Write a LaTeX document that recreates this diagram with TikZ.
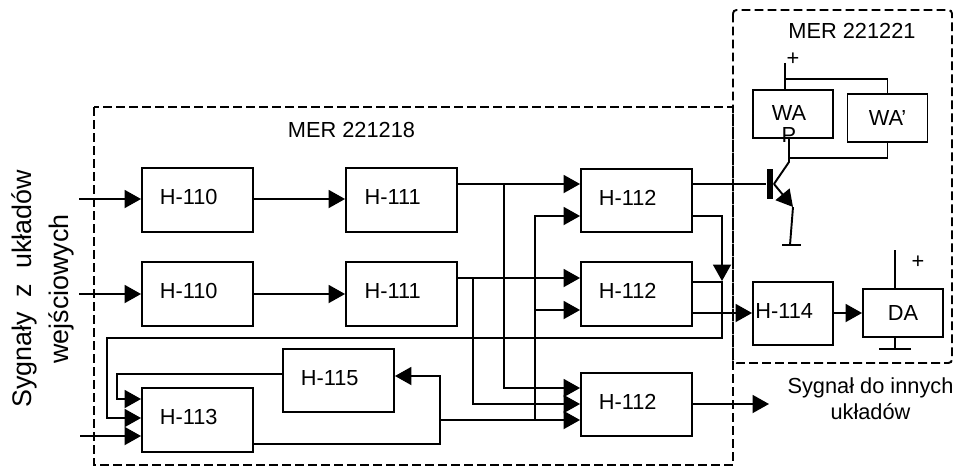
\documentclass[tikz,border=0pt]{standalone}
\usepackage{fontspec}
\setmainfont{Liberation Sans}
\usetikzlibrary{arrows.meta,positioning}
\begin{document}
\begin{tikzpicture}[x=.02cm,y=-.02cm,line width=1.1pt,font=\fontsize{12.4}{15}\selectfont,
 blk/.style={draw,minimum width=22.2mm,minimum height=12.7mm,inner sep=0pt,text depth=3.4pt,execute at end node=\hspace{10pt}},
 sblk/.style={blk,minimum width=16mm,minimum height=12.7mm},
 load/.style={draw,minimum width=16mm,minimum height=9.6mm,inner sep=0pt},
 region/.style={dash pattern=on 5pt off 2.4pt},
 arr/.style={-{Triangle[length=3.3mm,width=3.6mm]}},
 txt/.style={inner sep=0pt,align=center}]
\useasboundingbox (0,0) rectangle (960,466);
\draw[region] (94,107) rectangle (733,465);
\draw[region,rounded corners=2pt] (733,10) rectangle (952,363);
\node[txt] (mera) at (351.5,130) {MER 221218};
\node[txt] (merb) at (852,31) {MER 221221};
\node[blk] (h110a) at (197.5,200) {H-110};
\node[blk] (h111a) at (401.5,200) {H-111};
\node[blk] (h112a) at (636.5,200.5) {H-112};
\node[blk] (h110b) at (197.5,294) {H-110};
\node[blk] (h111b) at (401.5,294) {H-111};
\node[blk] (h112b) at (636.5,294) {H-112};
\node[blk] (h112c) at (636.5,404.5) {H-112};
\node[blk] (h113) at (197.5,420) {H-113};
\node[blk] (h115) at (338.5,380.5) {H-115};
\node[sblk] (h114) at (793,313.5) {H-114};
\node[load] (da) at (903,313) {DA};
\node[load] (wa) at (793,114) {};
\node[txt,font=\fontsize{12.4}{13}\selectfont] (walab) at (789,124) {WA\\P};
\node[load] (wb) at (887.5,118) {WA'};
\node[fill,inner sep=0pt,minimum width=1.2mm,minimum height=6.2mm] (trbar) at (770,184) {};
\node[txt,font=\fontsize{15.3}{21}\selectfont,rotate=90] (insig) at (43,289) {Sygnały\ \ z\ \ układów\\wejściowych};
\node[txt] (outsig) at (870.5,399) {Sygnał do innych\\układów};
\node[txt] (plusa) at (793,59) {+};
\node[txt] (plusb) at (918,262) {+};
\coordinate (ina) at (79,199);
\coordinate (inb) at (79,294);
\coordinate (inc) at (80,436);
\coordinate (busa) at (504,184);
\coordinate (busb) at (473,278);
\coordinate (busc) at (535,216);
\coordinate (busd) at (535,420);
\coordinate (loop) at (440,420);
\coordinate (fbr) at (722,338);
\coordinate (fbl) at (107,338);
\coordinate (col) at (789,162);
\coordinate (colb) at (789,158);
\coordinate (emi) at (793,207);
\coordinate (gnd) at (790,245);
\coordinate (sup) at (785,63);
\coordinate (supb) at (785,79);
\coordinate (dasup) at (895,250);
\coordinate (dagnd) at (895,349);
\coordinate (outc) at (769,404);
\draw[arr] (ina) -- (h110a.west |- ina);
\draw[arr] (inb) -- (h110b.west |- inb);
\draw[arr] (inc) -- (h113.west |- inc);
\draw[arr] (h110a.east |- ina) -- (h111a.west |- ina);
\draw[arr] (h110b.east |- inb) -- (h111b.west |- inb);
\draw[arr] (h111a.east |- busa) -- (h112a.west |- busa);
\draw[arr] (h111b.east |- busb) -- (h112b.west |- busb);
\draw[arr] (busa) |- (h112c.west |- 0,388);
\draw[arr] (busb) -- (473,404) -- (h112c.west |- 0,404);
\draw[arr] (busd) -- (busc) -- (h112a.west |- busc);
\draw[arr] (535,310) -- (h112b.west |- 0,310);
\draw[arr] (h113.east |- 0,444) -| (440,376) -- (h115.east |- 0,376);
\draw[arr] (loop) -- (h112c.west |- loop);
\draw[arr] (h115.west |- 0,374) -- (117,374) -- (117,399) -- (h113.west |- 0,399);
\draw[arr] (h112b.east |- 0,282) -- (722,282) -- (fbr) -- (fbl) -- (107,418) -- (h113.west |- 0,418);
\draw[arr] (h112a.east |- 0,216) -- (722,216) -- (722,281);
\draw[arr] (h112b.east |- 0,313) -- (h114.west |- 0,313);
\draw[arr] (h114.east |- 0,313) -- (da.west |- 0,313);
\draw[arr] (h112c.east |- outc) -- (outc);
\draw (h112a.east |- trbar) -- (trbar.west);
\draw (trbar.east) -- (col) -- (wa.south -| col);
\draw (colb) -| (wb.south);
\draw[arr] (trbar.east) -- (emi);
\draw (emi) -- (gnd);
\draw (782,245) -- (801,245);
\draw (sup) -- (wa.north -| sup);
\draw (supb) -| (wb.north);
\draw (dasup) -- (da.north -| dasup);
\draw (da.south -| dagnd) -- (dagnd);
\draw (879,349) -- (911,349);
\end{tikzpicture}
\end{document}
